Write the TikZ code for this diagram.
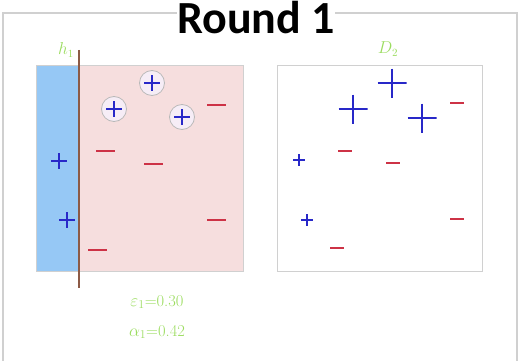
\documentclass[tikz,border=0pt]{standalone}
\usepackage{fontspec}
\newfontfamily\titlefont{Carlito}
\usetikzlibrary{positioning}
\definecolor{cpos}{RGB}{40, 40, 200}
\definecolor{cneg}{RGB}{205, 50, 70}
\definecolor{cwt}{RGB}{155, 220, 95}
\definecolor{cframe}{RGB}{208, 208, 208}
\definecolor{cpink}{RGB}{246, 222, 222}
\definecolor{csky}{RGB}{150, 200, 245}
\definecolor{cstump}{RGB}{140, 90, 70}
\tikzset{
  frame/.style={draw=cframe, line width=1.3pt},
  panel/.style={draw=cframe, line width=1pt, minimum width=206pt, minimum height=205pt,
                inner sep=0pt},
  pmark/.style={minimum size=#1, inner sep=0pt,
                path picture={\draw[cpos, line width=1.7pt]
                  (path picture bounding box.north) -- (path picture bounding box.south)
                  (path picture bounding box.west) -- (path picture bounding box.east);}},
  nmark/.style={minimum width=#1, minimum height=2.3pt, inner sep=0pt, fill=cneg},
  ring/.style={circle, draw=gray!55, line width=0.8pt, fill=violet!7, minimum size=25pt,
               inner sep=0pt,
               path picture={\draw[cpos, line width=1.7pt]
                 ([yshift=8pt]path picture bounding box.center) -- ([yshift=-8pt]path picture bounding box.center)
                 ([xshift=-8pt]path picture bounding box.center) -- ([xshift=8pt]path picture bounding box.center);}},
  hlab/.style={text=cwt, font=\fontsize{16}{18}\selectfont},
  wlab/.style={text=cwt, font=\fontsize{16.5}{18}\selectfont},
}

\begin{document}
\begin{tikzpicture}[x=1pt, y=-1pt]
\useasboundingbox (0,0) rectangle (519,361);

% ---------- frame and title ----------
\draw[frame] (3,13) rectangle (517,365);
\node[font=\titlefont\bfseries\fontsize{46}{48}\selectfont, fill=white, inner sep=0.5pt,
      anchor=base] (title) at (256,34) {Round 1};

% ---------- left panel: weak learner h1 ----------
\node[panel, fill=cpink] (lpanel) at (140,168.5) {};
\node[fill=csky, minimum width=42pt, minimum height=205pt, inner sep=0pt,
      anchor=north west] (hpos) at (lpanel.north west) {};
\draw[cframe, line width=1pt] (lpanel.north west) rectangle (lpanel.south east);
\coordinate (cuttop) at (79,50);
\coordinate (cutbot) at (79,288);
\draw[cstump, line width=1.5pt] (cuttop) -- (cutbot);
\node[hlab] (h1) at (66,50) {$h_1$};

\node[ring] (r1) at (152,83) {};
\node[ring] (r2) at (114,109) {};
\node[ring] (r3) at (182,117) {};
\node[pmark=16pt] (lp1) at (59,161) {};
\node[pmark=16pt] (lp2) at (67,220) {};
\node[nmark=19pt] (ln1) at (216,105) {};
\node[nmark=19pt] (ln2) at (105,151) {};
\node[nmark=19pt] (ln3) at (153,164) {};
\node[nmark=19pt] (ln4) at (216,220) {};
\node[nmark=19pt] (ln5) at (97,250) {};

\node[wlab] (eps) at (157,302) {$\varepsilon_1$=0.30};
\node[wlab] (alpha) at (157,332) {$\alpha_1$=0.42};

% ---------- right panel: reweighted D2 ----------
\node[panel, minimum width=205pt] (rpanel) at (379.5,168.5) {};
\node[hlab] (d2) at (388,49) {$D_2$};

\node[pmark=29pt] (rp1) at (392,83) {};
\node[pmark=29pt] (rp2) at (353,109) {};
\node[pmark=29pt] (rp3) at (422,118) {};
\node[pmark=12pt] (rp4) at (299,160) {};
\node[pmark=12pt] (rp5) at (307,220) {};
\node[nmark=14pt] (rn1) at (457,103) {};
\node[nmark=14pt] (rn2) at (345,151) {};
\node[nmark=14pt] (rn3) at (393,163) {};
\node[nmark=14pt] (rn4) at (457,219) {};
\node[nmark=14pt] (rn5) at (337,248) {};

\end{tikzpicture}
\end{document}
